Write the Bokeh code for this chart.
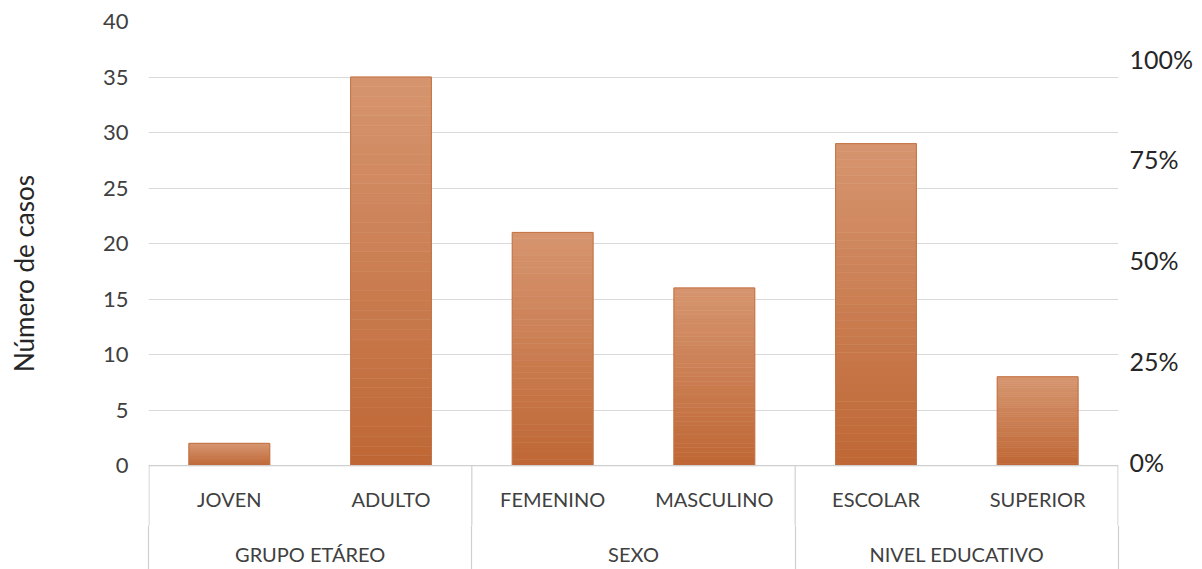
from bokeh.plotting import figure
from bokeh.models import Range1d, LinearAxis, FixedTicker, PrintfTickFormatter
from bokeh.core.properties import value
from bokeh.embed import file_html
from bokeh.resources import INLINE

# ---- data ----
groups = ["GRUPO ETÁREO", "SEXO", "NIVEL EDUCATIVO"]
categories = ["JOVEN", "ADULTO", "FEMENINO", "MASCULINO", "ESCOLAR", "SUPERIOR"]
category_group = ["GRUPO ETÁREO", "GRUPO ETÁREO", "SEXO", "SEXO", "NIVEL EDUCATIVO", "NIVEL EDUCATIVO"]
cases = [2, 35, 21, 16, 29, 8]
left_ticks = [0, 5, 10, 15, 20, 25, 30, 35, 40]
right_ticks = [0, 25, 50, 75, 100]
y_title = "Número de casos"

FONT = "Lato"
TXT = "#404040"
SEP = "#D0D0D0"
Y_MIN = -5.4

n = len(categories)
p = figure(width=1202, height=569, output_backend="svg", toolbar_location=None,
           x_range=Range1d(0, n), y_range=Range1d(Y_MIN, 40),
           min_border_left=148, min_border_right=84,
           min_border_top=21, min_border_bottom=44)
p.outline_line_color = None
p.background_fill_color = "white"
p.xgrid.visible = False
p.ygrid.ticker = FixedTicker(ticks=left_ticks)
p.ygrid.grid_line_color = "#D9D9D9"
p.ygrid.grid_line_width = 1

# left value axis
ya = p.yaxis[0]
ya.ticker = FixedTicker(ticks=left_ticks)
ya.axis_line_color = None
ya.major_tick_line_color = None
ya.minor_tick_line_color = None
ya.major_label_text_font = FONT
ya.major_label_text_font_size = "22px"
ya.major_label_text_color = TXT
ya.major_label_standoff = 14
ya.axis_label = y_title
ya.axis_label_text_font = FONT
ya.axis_label_text_font_style = "normal"
ya.axis_label_text_font_size = "26px"
ya.axis_label_text_color = "#262626"
ya.axis_label_standoff = 60

# group positions / boundaries
gx = []
for g in groups:
    idx = [i for i, cg in enumerate(category_group) if cg == g]
    gx.append((min(idx) + max(idx) + 1) / 2)
bounds = [0]
for g in groups:
    bounds.append(bounds[-1] + category_group.count(g))

# bottom axis: group names, with separators drawn as minor ticks
xa = p.xaxis[0]
xa.ticker = FixedTicker(ticks=gx, minor_ticks=bounds)
xa.major_label_overrides = {x: g for x, g in zip(gx, groups)}
xa.axis_line_color = None
xa.major_tick_line_color = None
xa.major_tick_out = 0
xa.major_tick_in = 0
xa.minor_tick_line_color = SEP
xa.minor_tick_line_width = 1.2
xa.minor_tick_out = 44
xa.minor_tick_in = 0
xa.major_label_standoff = -28
xa.major_label_text_font = FONT
xa.major_label_text_font_size = "20px"
xa.major_label_text_color = TXT

# right percentage axis
p.extra_y_ranges = {"pct": Range1d(-15.6, 109.16)}
ra = LinearAxis(y_range_name="pct", ticker=FixedTicker(ticks=right_ticks),
                formatter=PrintfTickFormatter(format="%d%%"))
ra.axis_line_color = None
ra.major_tick_line_color = None
ra.minor_tick_line_color = None
ra.major_label_text_font = FONT
ra.major_label_text_font_size = "25px"
ra.major_label_text_color = "#262626"
ra.major_label_standoff = 5
p.add_layout(ra, "right")

# bars with vertical gradient
xs = [i + 0.5 for i in range(n)]
N = 40
dark = (0xBF, 0x67, 0x35)
light = (0xD6, 0x95, 0x6F)
sx, sb, st, sc = [], [], [], []
for x, v in zip(xs, cases):
    for k in range(N):
        tt = (k + 0.5) / N
        c = tuple(int(round(dark[j] + (light[j] - dark[j]) * tt)) for j in range(3))
        sx.append(x)
        sb.append(v * k / N)
        st.append(v * (k + 1) / N)
        sc.append("#%02x%02x%02x" % c)
p.vbar(x=sx, bottom=sb, top=st, width=0.5, fill_color=sc, line_color=sc, line_width=0.6)
p.vbar(x=xs, top=cases, width=0.5, fill_alpha=0, line_color="#C37344", line_width=1)

# category labels
p.text(x=xs, y=[-2.97] * n, text=categories, text_font=value(FONT),
       text_font_size="20px", text_color=TXT, text_align="center", text_baseline="middle")

# separators inside the plot area
bx = [b + (0.003 if b == 0 else (-0.003 if b == n else 0)) for b in bounds]
p.segment(x0=bx, y0=[0] * len(bx), x1=bx, y1=[Y_MIN] * len(bx), line_color=SEP, line_width=1.2)
p.segment(x0=[0], y0=[0], x1=[n], y1=[0], line_color=SEP, line_width=1.2)

open("out.html", "w").write(file_html(p, INLINE))
